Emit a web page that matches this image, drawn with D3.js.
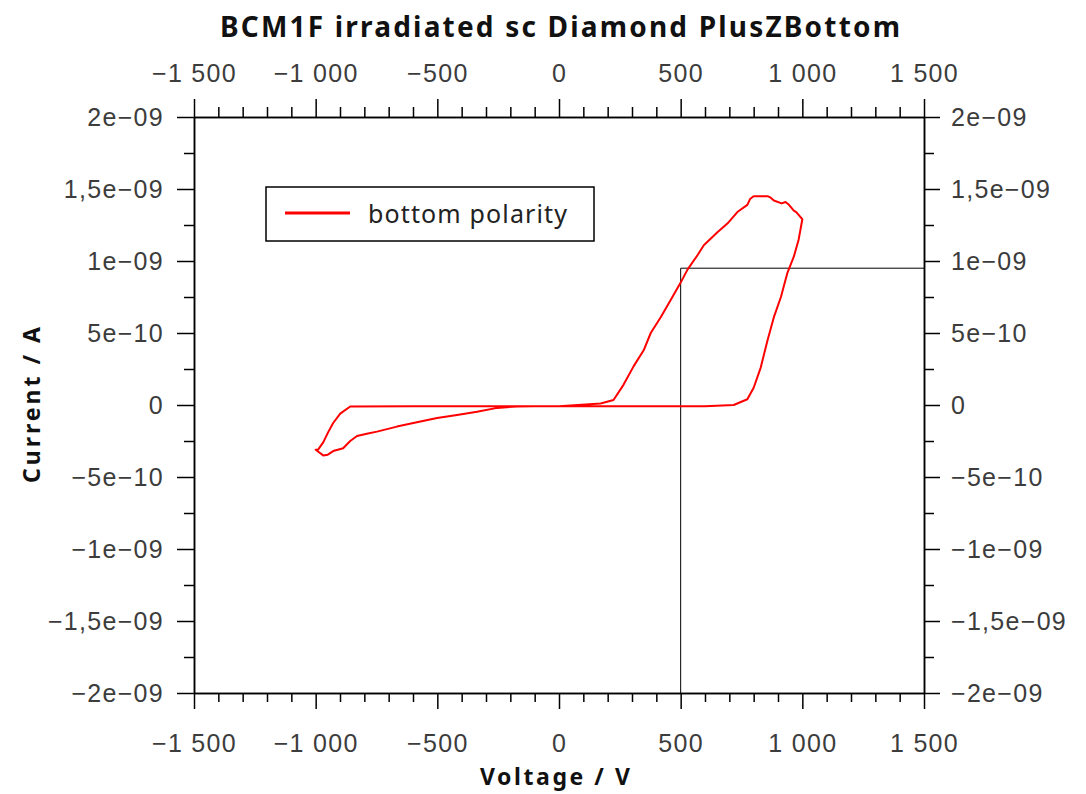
<!DOCTYPE html>
<html><head><meta charset="utf-8">
<script src="https://cdn.jsdelivr.net/npm/d3@7"></script>
<style>
body{margin:0;background:#fff;}
svg{font-family:"Noto Sans","Open Sans",sans-serif;}
</style></head>
<body><svg id="c" width="1086" height="794"></svg>
<script>
// ---- data ----
const title = "BCM1F irradiated sc Diamond PlusZBottom";
const xLabel = "Voltage / V";
const yLabel = "Current / A";
const seriesName = "bottom polarity";
const xTicks = [-1500,-1000,-500,0,500,1000,1500];
const xTickLabels = ["\u22121 500","\u22121 000","\u2212500","0","500","1 000","1 500"];
const yTicks = [-2e-9,-1.5e-9,-1e-9,-5e-10,0,5e-10,1e-9,1.5e-9,2e-9];
const yTickLabels = ["\u22122e\u221209","\u22121,5e\u221209","\u22121e\u221209","\u22125e\u221210","0","5e\u221210","1e\u221209","1,5e\u221209","2e\u221209"];
// voltage (V) and current (nA) along the measured loop
const voltage = [0,200,400,600,718,774,800,829,857,883,912,939,965,985,1000,
  990,975,965,945,931,915,883,870,857,830,800,785,774,733,692,651,595,569,528,500,459,418,377,348,307,265,224,171,
  0,-200,-400,-600,-858,-899,-928,-949,-969,-990,-1000,-985,-969,-950,-928,-887,-858,-830,-790,-748,-666,-584,-501,-419,-337,-254,-172,-100,0];
const currentNA = [-0.008,-0.008,-0.008,-0.008,0,0.04,0.12,0.26,0.45,0.61,0.75,0.92,1.03,1.15,1.29,
  1.31,1.34,1.35,1.39,1.41,1.40,1.42,1.44,1.45,1.45,1.45,1.43,1.39,1.34,1.26,1.20,1.11,1.04,0.94,0.85,0.73,0.61,0.50,0.38,0.27,0.14,0.035,0.01,
  -0.008,-0.008,-0.008,-0.008,-0.01,-0.06,-0.125,-0.19,-0.26,-0.31,-0.31,-0.33,-0.35,-0.345,-0.32,-0.30,-0.25,-0.215,-0.2,-0.185,-0.15,-0.12,-0.09,-0.07,-0.047,-0.02,-0.01,-0.008,-0.008];
const markerV = 500, markerI = 0.95e-9;

// ---- chart ----
const svg = d3.select("#c");
const L=194, R=924, T=117, B=693;
const x = d3.scaleLinear().domain([-1500,1500]).range([L,R]);
const y = d3.scaleLinear().domain([-2e-9,2e-9]).range([B,T]);
const xMinor = d3.range(-1500,1501,100).filter(v=>v%500!==0);
const yMinor = d3.range(-7,8,2).map(k=>k*2.5e-10);

function styleAxis(g){
  g.selectAll("path,line").attr("stroke","#000").attr("stroke-width",1.5);
  g.selectAll("text").attr("fill","#3c3c3c").style("font-size","25px").style("letter-spacing","1.3px");
}
const fx = d=>xTickLabels[xTicks.indexOf(d)];
const fy = d=>yTickLabels[yTicks.findIndex(t=>Math.abs(t-d)<1e-15)];

svg.append("g").attr("transform",`translate(0,${B})`)
  .call(d3.axisBottom(x).tickValues(xTicks).tickFormat(fx).tickSize(16).tickSizeOuter(0).tickPadding(25)).call(styleAxis);
svg.append("g").attr("transform",`translate(0,${B})`)
  .call(d3.axisBottom(x).tickValues(xMinor).tickFormat("").tickSize(9).tickSizeOuter(0)).call(styleAxis);
svg.append("g").attr("transform",`translate(0,${T})`)
  .call(d3.axisTop(x).tickValues(xTicks).tickFormat(fx).tickSize(18).tickSizeOuter(0).tickPadding(17)).call(styleAxis);
svg.append("g").attr("transform",`translate(0,${T})`)
  .call(d3.axisTop(x).tickValues(xMinor).tickFormat("").tickSize(10).tickSizeOuter(0)).call(styleAxis);
svg.append("g").attr("transform",`translate(${L},0)`)
  .call(d3.axisLeft(y).tickValues(yTicks).tickFormat(fy).tickSize(17).tickSizeOuter(0).tickPadding(13)).call(styleAxis);
svg.append("g").attr("transform",`translate(${L},0)`)
  .call(d3.axisLeft(y).tickValues(yMinor).tickFormat("").tickSize(10).tickSizeOuter(0)).call(styleAxis);
svg.append("g").attr("transform",`translate(${R},0)`)
  .call(d3.axisRight(y).tickValues(yTicks).tickFormat(fy).tickSize(16).tickSizeOuter(0).tickPadding(11)).call(styleAxis);
svg.append("g").attr("transform",`translate(${R},0)`)
  .call(d3.axisRight(y).tickValues(yMinor).tickFormat("").tickSize(10).tickSizeOuter(0)).call(styleAxis);

// marker lines
svg.append("line").attr("x1",x(markerV)).attr("x2",x(markerV)).attr("y1",y(markerI)).attr("y2",B)
  .attr("stroke","#000").attr("stroke-width",1);
svg.append("line").attr("x1",x(markerV)).attr("x2",R).attr("y1",y(markerI)).attr("y2",y(markerI))
  .attr("stroke","#000").attr("stroke-width",1);

// curve
const pts = voltage.map((v,i)=>[v,currentNA[i]*1e-9]);
svg.append("path").datum(pts)
  .attr("d",d3.line().x(d=>x(d[0])).y(d=>y(d[1])))
  .attr("fill","none").attr("stroke","#ff0000").attr("stroke-width",2).attr("stroke-linejoin","round");

// legend
svg.append("rect").attr("x",266).attr("y",187).attr("width",328).attr("height",54)
  .attr("fill","#fff").attr("stroke","#000").attr("stroke-width",1.5);
svg.append("line").attr("x1",285).attr("x2",350).attr("y1",213).attr("y2",213)
  .attr("stroke","#ff0000").attr("stroke-width",3);
svg.append("text").attr("x",368).attr("y",223).text(seriesName)
  .attr("textLength",199).attr("lengthAdjust","spacing")
  .attr("fill","#222").style("font-size","25px");

// titles
svg.append("text").attr("x",220).attr("y",37)
  .attr("textLength",680).attr("lengthAdjust","spacing")
  .style("font-size","28px").style("font-weight","bold").attr("fill","#111").text(title);
svg.append("text").attr("x",480).attr("y",785)
  .attr("textLength",150).attr("lengthAdjust","spacing")
  .style("font-size","23px").style("font-weight","bold").attr("fill","#111").text(xLabel);
svg.append("text").attr("transform","translate(40,483) rotate(-90)")
  .attr("textLength",156).attr("lengthAdjust","spacing")
  .style("font-size","23px").style("font-weight","bold").attr("fill","#111").text(yLabel);
</script></body></html>
